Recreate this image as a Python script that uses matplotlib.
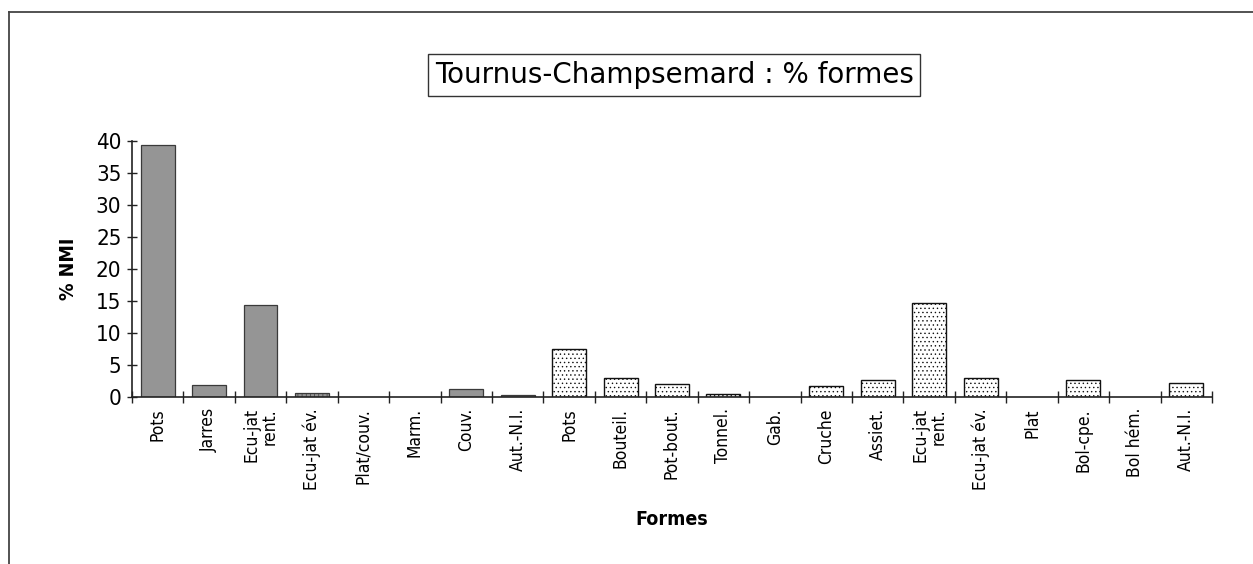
import matplotlib
matplotlib.use("Agg")
import matplotlib.pyplot as plt
from matplotlib.lines import Line2D
import numpy as np

# Forms: first group (grey bars), second group (stippled bars)
labels_group1 = ["Pots", "Jarres", "Ecu-jat\nrent.", "Ecu-jat év.", "Plat/couv.",
                 "Marm.", "Couv.", "Aut.-N.I."]
values_group1 = [39.4, 1.8, 14.3, 0.6, 0.0, 0.0, 1.3, 0.3]

labels_group2 = ["Pots", "Bouteil.", "Pot-bout.", "Tonnel.", "Gab.", "Cruche",
                 "Assiet.", "Ecu-jat\nrent.", "Ecu-jat év.", "Plat", "Bol-cpe.",
                 "Bol hém.", "Aut.-N.I."]
values_group2 = [7.5, 3.0, 2.0, 0.5, 0.0, 1.7, 2.7, 14.7, 2.9, 0.0, 2.6, 0.0, 2.2]

y_ticks = [0, 5, 10, 15, 20, 25, 30, 35, 40]

plt.rcParams["hatch.linewidth"] = 0.5
plt.rcParams["hatch.color"] = "#666666"

fig = plt.figure(figsize=(12.53, 5.64), dpi=100)
ax = fig.add_axes([0.1053, 0.2961, 0.862, 0.4539])

labels = labels_group1 + labels_group2
values = values_group1 + values_group2
x = np.arange(len(labels))
n1 = len(values_group1)

bar_w = 0.66
for i, v in enumerate(values):
    if v <= 0:
        continue
    if i < n1:
        hatch = "||||" if labels[i] == "Ecu-jat év." else None
        ax.bar(x[i], v, width=bar_w, color="#959595", edgecolor="#3a3a3a",
               linewidth=0.9, hatch=hatch)
    else:
        ax.bar(x[i], v, width=bar_w, color="white", edgecolor="#111111",
               linewidth=1.0, hatch="....")

ax.set_xlim(-0.5, len(labels) - 0.5)
ax.set_ylim(0, 40)
ax.set_yticks(y_ticks)
ax.set_yticklabels([str(t) for t in y_ticks], fontsize=16,
                   family="DejaVu Sans", fontstretch="condensed")

ax.set_xticks(x)
ax.set_xticklabels(labels, rotation=90, fontsize=12.5, ha="center", va="top",
                   multialignment="right", fontstretch="condensed",
                   linespacing=1.0)
ax.set_xticks(np.arange(-0.5, len(labels), 1.0), minor=True)
ax.tick_params(axis="x", which="major", length=0, pad=8)
ax.tick_params(axis="x", which="minor", length=9, direction="inout",
               width=1.0, color="#222222")
ax.tick_params(axis="y", length=7, direction="inout", width=1.0,
               color="#222222", pad=4)

for s in ["top", "right"]:
    ax.spines[s].set_visible(False)
for s in ["left", "bottom"]:
    ax.spines[s].set_linewidth(1.2)
    ax.spines[s].set_color("#222222")

ax.set_ylabel("% NMI", fontsize=14, fontweight="bold",
              fontstretch="condensed")
ax.yaxis.set_label_coords(-0.05, 0.5)
ax.set_xlabel("Formes", fontsize=14, fontweight="bold",
              fontstretch="condensed")
ax.xaxis.set_label_coords(0.5, -0.44)

fig.text(0.538, 0.867, "Tournus-Champsemard : % formes", fontsize=20,
         ha="center", va="center",
         bbox=dict(boxstyle="square,pad=0.25", facecolor="white",
                   edgecolor="#333333", linewidth=1.0))

# Outer frame (left and top edges)
fig.add_artist(Line2D([0.0072, 0.0072], [0.0, 0.979], transform=fig.transFigure,
                      color="#444444", linewidth=1.3))
fig.add_artist(Line2D([0.0072, 1.0], [0.979, 0.979], transform=fig.transFigure,
                      color="#444444", linewidth=1.3))

fig.savefig("out.png", dpi=100)
